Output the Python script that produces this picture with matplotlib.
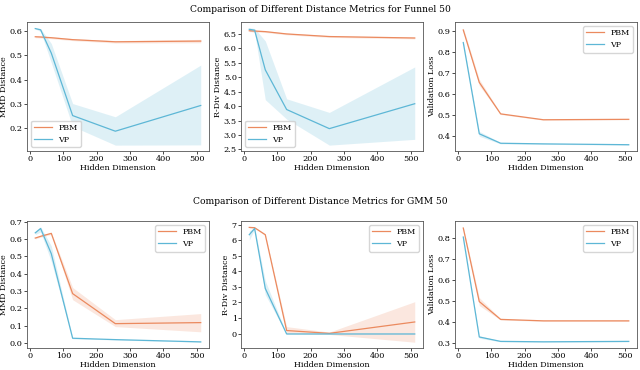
import numpy as np
import matplotlib
matplotlib.use("Agg")
import matplotlib.pyplot as plt
from matplotlib.ticker import MultipleLocator

plt.rcParams['font.family'] = 'DejaVu Serif'

dims = [16, 32, 64, 128, 256, 512]
dims_val = [16, 64, 128, 256, 512]

# Funnel 50
f_mmd_pbm = [0.578, 0.577, 0.574, 0.566, 0.557, 0.560]
f_mmd_pbm_lo = [0.574, 0.573, 0.570, 0.562, 0.552, 0.553]
f_mmd_pbm_hi = [0.582, 0.581, 0.578, 0.570, 0.562, 0.567]
f_mmd_vp = [0.612, 0.607, 0.510, 0.250, 0.185, 0.292]
f_mmd_vp_lo = [0.610, 0.600, 0.470, 0.205, 0.127, 0.128]
f_mmd_vp_hi = [0.615, 0.612, 0.550, 0.300, 0.245, 0.460]

f_rdiv_pbm = [6.60, 6.59, 6.57, 6.49, 6.40, 6.35]
f_rdiv_pbm_lo = [6.57, 6.56, 6.54, 6.46, 6.37, 6.32]
f_rdiv_pbm_hi = [6.63, 6.62, 6.60, 6.52, 6.43, 6.38]
f_rdiv_vp = [6.65, 6.62, 5.25, 3.88, 3.22, 4.08]
f_rdiv_vp_lo = [6.60, 6.55, 4.22, 3.55, 2.65, 2.85]
f_rdiv_vp_hi = [6.70, 6.68, 6.25, 4.25, 3.78, 5.35]

f_val_pbm = [0.905, 0.655, 0.505, 0.477, 0.479]
f_val_pbm_lo = [0.895, 0.640, 0.502, 0.475, 0.477]
f_val_pbm_hi = [0.915, 0.670, 0.508, 0.479, 0.481]
f_val_vp = [0.845, 0.410, 0.365, 0.362, 0.358]
f_val_vp_lo = [0.840, 0.398, 0.362, 0.360, 0.356]
f_val_vp_hi = [0.850, 0.422, 0.368, 0.364, 0.360]

# GMM 50
g_mmd_pbm = [0.605, 0.615, 0.632, 0.285, 0.112, 0.118]
g_mmd_pbm_lo = [0.600, 0.610, 0.626, 0.250, 0.095, 0.065]
g_mmd_pbm_hi = [0.610, 0.620, 0.638, 0.320, 0.135, 0.170]
g_mmd_vp = [0.635, 0.660, 0.515, 0.028, 0.020, 0.007]
g_mmd_vp_lo = [0.625, 0.640, 0.470, 0.025, 0.018, 0.005]
g_mmd_vp_hi = [0.645, 0.670, 0.560, 0.031, 0.022, 0.009]

g_rdiv_pbm = [6.82, 6.80, 6.35, 0.20, 0.02, 0.75]
g_rdiv_pbm_lo = [6.78, 6.76, 6.30, 0.00, -0.05, -0.55]
g_rdiv_pbm_hi = [6.86, 6.84, 6.40, 0.45, 0.10, 2.05]
g_rdiv_vp = [6.35, 6.75, 2.90, -0.02, -0.02, -0.02]
g_rdiv_vp_lo = [6.00, 6.70, 2.50, -0.03, -0.03, -0.03]
g_rdiv_vp_hi = [6.60, 6.80, 3.40, -0.01, -0.01, -0.01]

g_val_pbm = [0.848, 0.497, 0.412, 0.405, 0.405]
g_val_pbm_lo = [0.842, 0.478, 0.409, 0.403, 0.403]
g_val_pbm_hi = [0.854, 0.516, 0.415, 0.407, 0.407]
g_val_vp = [0.805, 0.328, 0.307, 0.305, 0.307]
g_val_vp_lo = [0.800, 0.322, 0.305, 0.303, 0.305]
g_val_vp_hi = [0.810, 0.334, 0.309, 0.307, 0.309]

c_pbm = '#EB8A5F'
c_vp = '#5DB7D6'

fig = plt.figure(figsize=(6.4, 3.7), dpi=100)

lefts = [27, 241, 455]
width = 182
rows = [(22, 151), (221, 348)]

panels = [
    [(dims, f_mmd_pbm, f_mmd_pbm_lo, f_mmd_pbm_hi, f_mmd_vp, f_mmd_vp_lo, f_mmd_vp_hi, 'MMD Distance', 'lower left', 0.1),
     (dims, f_rdiv_pbm, f_rdiv_pbm_lo, f_rdiv_pbm_hi, f_rdiv_vp, f_rdiv_vp_lo, f_rdiv_vp_hi, 'R-Div Distance', 'lower left', 0.5),
     (dims_val, f_val_pbm, f_val_pbm_lo, f_val_pbm_hi, f_val_vp, f_val_vp_lo, f_val_vp_hi, 'Validation Loss', 'upper right', 0.1)],
    [(dims, g_mmd_pbm, g_mmd_pbm_lo, g_mmd_pbm_hi, g_mmd_vp, g_mmd_vp_lo, g_mmd_vp_hi, 'MMD Distance', 'upper right', 0.1),
     (dims, g_rdiv_pbm, g_rdiv_pbm_lo, g_rdiv_pbm_hi, g_rdiv_vp, g_rdiv_vp_lo, g_rdiv_vp_hi, 'R-Div Distance', 'upper right', 1),
     (dims_val, g_val_pbm, g_val_pbm_lo, g_val_pbm_hi, g_val_vp, g_val_vp_lo, g_val_vp_hi, 'Validation Loss', 'upper right', 0.1)],
]
titles = ['Comparison of Different Distance Metrics for Funnel 50',
          'Comparison of Different Distance Metrics for GMM 50']
title_y = [10, 202]

W, H = 640, 370
for r, (top, bot) in enumerate(rows):
    fig.text(0.5, 1 - title_y[r] / H, titles[r], ha='center', va='center', fontsize=6.6)
    for c in range(3):
        x, pbm, plo, phi, vp, vlo, vhi, ylab, loc, step = panels[r][c]
        ax = fig.add_axes([lefts[c] / W, 1 - bot / H, width / W, (bot - top) / H])
        ax.fill_between(x, plo, phi, color=c_pbm, alpha=0.2, lw=0)
        ax.plot(x, pbm, color=c_pbm, lw=0.9, label='PBM')
        ax.fill_between(x, vlo, vhi, color=c_vp, alpha=0.2, lw=0)
        ax.plot(x, vp, color=c_vp, lw=0.9, label='VP')
        ax.set_xticks([0, 100, 200, 300, 400, 500])
        ax.yaxis.set_major_locator(MultipleLocator(step))
        ax.set_xlabel('Hidden Dimension', fontsize=5.8, labelpad=0.5)
        ax.set_ylabel(ylab, fontsize=5.8, labelpad=1)
        ax.tick_params(labelsize=5.9, length=2, width=0.5, pad=1)
        for s in ax.spines.values():
            s.set_linewidth(0.6)
            s.set_color('#555555')
        ax.legend(loc=loc, fontsize=5.8, handlelength=2.2, borderpad=0.4)

fig.savefig('out.png', dpi=100)
